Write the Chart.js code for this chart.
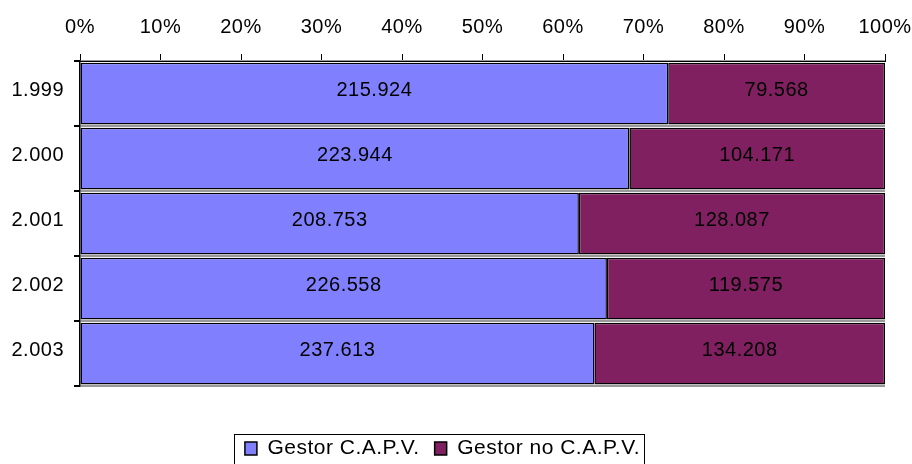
<!DOCTYPE html>
<html>
<head>
<meta charset="utf-8">
<script src="https://cdn.jsdelivr.net/npm/chart.js@4.4.1/dist/chart.umd.min.js"></script>
<style>
  html, body { margin: 0; padding: 0; background: #fff; overflow: hidden; }
  #wrap { width: 912px; height: 469px; }
</style>
</head>
<body>
<div id="wrap"><canvas id="chart" width="912" height="469"></canvas></div>
<script>
// datos (valores absolutos)
const years = ['1.999', '2.000', '2.001', '2.002', '2.003'];
const gestorCapv = [215924, 223944, 208753, 226558, 237613];
const gestorNoCapv = [79568, 104171, 128087, 119575, 134208];
const xTicks = ['0%', '10%', '20%', '30%', '40%', '50%', '60%', '70%', '80%', '90%', '100%'];

// 100% apilado
const totals = gestorCapv.map((v, i) => v + gestorNoCapv[i]);
const pct = arr => arr.map((v, i) => v / totals[i] * 100);
const fmt = n => n.toLocaleString('de-DE');

const font = { family: 'Liberation Sans, Arial, sans-serif', size: 20 };

// espaciado de letras tipo Excel
const spacing = {
    id: 'spacing',
    beforeUpdate(chart) { chart.ctx.letterSpacing = '0.5px'; },
    beforeDraw(chart) { chart.ctx.letterSpacing = '0.5px'; }
};

// etiquetas de valor dentro de cada segmento
const valueLabels = {
    id: 'valueLabels',
    afterDatasetsDraw(chart) {
        const ctx = chart.ctx;
        ctx.save();
        ctx.font = '20px Liberation Sans, Arial, sans-serif';
        ctx.fillStyle = '#000';
        ctx.textAlign = 'center';
        ctx.textBaseline = 'middle';
        chart.data.datasets.forEach((ds, di) => {
            const meta = chart.getDatasetMeta(di);
            meta.data.forEach((bar, i) => {
                const x = (bar.x + bar.base) / 2;
                ctx.fillText(fmt(ds.raw[i]), x, bar.y - 3);
            });
        });
        ctx.restore();
    }
};

// marco de la leyenda
const legendFrame = {
    id: 'legendFrame',
    afterDraw(chart) {
        const boxes = chart.legend.legendHitBoxes;
        if (!boxes || !boxes.length) return;
        const first = boxes[0], last = boxes[boxes.length - 1];
        const ctx = chart.ctx;
        ctx.save();
        ctx.strokeStyle = '#000';
        ctx.lineWidth = 1;
        const l = Math.round(first.left - 11) + 0.5;
        const r = Math.round(last.left + last.width + 4) + 0.5;
        const t = Math.round(first.top - 4) + 0.5;
        ctx.strokeRect(l, t, r - l, 40);
        ctx.restore();
    }
};

new Chart(document.getElementById('chart'), {
    type: 'bar',
    data: {
        labels: years,
        datasets: [
            {
                label: 'Gestor C.A.P.V.',
                data: pct(gestorCapv),
                raw: gestorCapv,
                backgroundColor: '#8080FF',
                borderColor: '#000',
                borderWidth: 1.5,
                borderSkipped: false,
                categoryPercentage: 1,
                barPercentage: 0.95
            },
            {
                label: 'Gestor no C.A.P.V.',
                data: pct(gestorNoCapv),
                raw: gestorNoCapv,
                backgroundColor: '#802060',
                borderColor: '#000',
                borderWidth: 1.5,
                borderSkipped: false,
                categoryPercentage: 1,
                barPercentage: 0.95
            }
        ]
    },
    options: {
        indexAxis: 'y',
        responsive: false,
        animation: false,
        layout: { padding: { left: 0, right: 27, top: 0, bottom: 0 } },
        plugins: {
            legend: {
                position: 'bottom',
                title: { display: true, text: '', font: { size: 10, lineHeight: 1 }, padding: { top: 27, bottom: 0 } },
                labels: {
                    font: { family: 'Liberation Sans, Arial, sans-serif', size: 21 },
                    color: '#000',
                    boxWidth: 12,
                    boxHeight: 13,
                    padding: 15
                }
            },
            tooltip: { enabled: false }
        },
        scales: {
            x: {
                position: 'top',
                stacked: true,
                min: 0,
                max: 100,
                afterFit: s => { s.height = 61; s.paddingRight = 0; s.paddingLeft = 0; },
                afterBuildTicks: s => { s.ticks = xTicks.map((t, i) => ({ value: i * 10 })); },
                ticks: {
                    font: font,
                    color: '#000',
                    padding: 15,
                    maxRotation: 0,
                    callback: (v, i) => xTicks[i]
                },
                grid: { drawOnChartArea: false, tickLength: 7, tickColor: '#000' },
                border: { color: '#000', width: 1 }
            },
            y: {
                stacked: true,
                afterFit: s => { s.width = 80; },
                ticks: { font: font, color: '#000', padding: 10, labelOffset: -3 },
                grid: { color: '#999', lineWidth: 2, tickLength: 6, tickColor: '#000' },
                border: { color: '#000', width: 1.5 }
            }
        }
    },
    plugins: [spacing, valueLabels, legendFrame]
});
</script>
</body>
</html>
